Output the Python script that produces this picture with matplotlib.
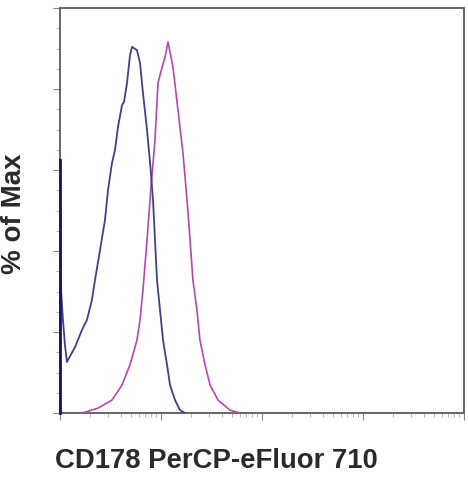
import numpy as np
import matplotlib
matplotlib.use('Agg')
import matplotlib.pyplot as plt
from matplotlib.ticker import MultipleLocator, LogLocator, NullFormatter

# blue histogram (isotype / unstained), intensity vs % of max
blue_x = [1.0, 1.0, 1.01, 1.07, 1.12, 1.17, 1.41, 1.65, 1.85, 2.07, 2.22, 2.49, 2.79,
          2.99, 3.27, 3.5, 3.75, 4.11, 4.3, 4.61, 4.93, 5.16, 5.78, 6.2, 6.63, 7.27,
          7.78, 8.34, 8.72, 9.13, 9.78, 10.47, 11.47, 12.28, 13.76, 15.42, 17.29]
blue_y = [0.0, 62.5, 32.8, 22.9, 16.8, 12.6, 16.3, 20.5, 23.0, 27.9, 32.8, 40.2, 47.7,
          55.1, 61.7, 64.9, 70.6, 76.0, 76.8, 81.5, 88.3, 90.4, 89.6, 86.4, 79.0, 69.9,
          62.0, 52.6, 42.7, 32.8, 25.4, 18.0, 11.9, 6.9, 3.2, 0.7, 0.0]

# magenta histogram (CD178 stained)
pink_x = [1.58, 1.77, 2.38, 3.27, 4.11, 4.93, 5.78, 6.2, 6.63, 7.27, 7.78, 8.15, 8.72,
          9.34, 10.2, 10.97, 11.73, 13.14, 14.73, 16.5, 18.1, 19.4, 20.7, 22.7, 24.3,
          27.3, 30.6, 36.7, 48.2, 60.6]
pink_y = [0.0, 0.2, 1.2, 3.2, 6.9, 11.9, 18.0, 23.0, 30.4, 42.7, 52.6, 58.8, 67.4,
          81.5, 85.2, 87.9, 91.6, 85.4, 74.8, 64.2, 52.6, 42.7, 32.8, 25.4, 18.0,
          11.9, 6.9, 3.2, 0.7, 0.0]

plt.rcParams['font.family'] = ['Liberation Sans', 'DejaVu Sans']

fig = plt.figure(figsize=(4.68, 4.8), dpi=100)
ax = fig.add_axes([60 / 468, 67 / 480, 404 / 468, 405 / 480])

ax.plot(pink_x, pink_y, color='#b548b0', lw=1.2, zorder=3)
ax.plot(blue_x, blue_y, color='#40408a', lw=1.3, zorder=4)
ax.plot([1.0, 1.0], [0, 62.5], color='#14146a', lw=2, zorder=5, clip_on=False)

ax.set_xscale('log')
ax.set_xlim(1, 1e4)
ax.set_ylim(0, 100)

ax.xaxis.set_major_locator(LogLocator(base=10, numticks=10))
ax.xaxis.set_minor_locator(LogLocator(base=10, subs=np.arange(2, 10), numticks=100))
ax.xaxis.set_major_formatter(NullFormatter())
ax.xaxis.set_minor_formatter(NullFormatter())
ax.yaxis.set_major_locator(MultipleLocator(20))
ax.yaxis.set_minor_locator(MultipleLocator(5))
ax.yaxis.set_major_formatter(NullFormatter())

ax.tick_params(which='major', length=5, width=0.8, color='#888888', direction='out')
ax.tick_params(which='minor', length=3, width=0.6, color='#aaaaaa', direction='out')

for sp in ax.spines.values():
    sp.set_color('#5a5a5a')
    sp.set_linewidth(1.3)

fig.text(14 / 468, 266 / 480, '% of Max', rotation=90, fontsize=20, fontweight='bold',
         ha='center', va='center', color='#2a2a2a')
fig.text(55 / 468, 19.5 / 480, 'CD178 PerCP-eFluor 710', fontsize=19.8, fontweight='bold',
         ha='left', va='center', color='#2a2a2a')

fig.savefig('out.png', dpi=100)
